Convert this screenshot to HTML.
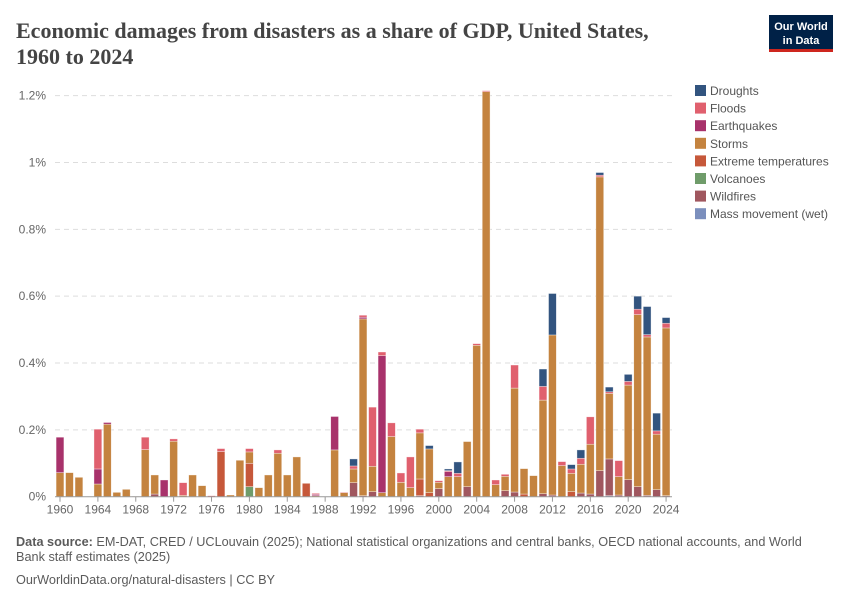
<!DOCTYPE html>
<html><head><meta charset="utf-8"><style>
body{margin:0;background:#fff;width:850px;height:600px;overflow:hidden;font-family:"Liberation Sans",sans-serif}
</style></head><body>
<svg id="chart" width="850" height="600" xmlns="http://www.w3.org/2000/svg">
<text x="16" y="38" font-family="Liberation Serif,serif" font-size="22" font-weight="bold" fill="#444">Economic damages from disasters as a share of GDP, United States,</text>
<text x="16" y="64" font-family="Liberation Serif,serif" font-size="22" font-weight="bold" fill="#444">1960 to 2024</text>
<g>
<rect x="769" y="15" width="64" height="35" fill="#002147"/>
<rect x="769" y="49" width="64" height="3" fill="#ce261e"/>
<text x="801" y="30" text-anchor="middle" font-size="11" font-weight="bold" fill="#fff">Our World</text>
<text x="801" y="44" text-anchor="middle" font-size="11" font-weight="bold" fill="#fff">in Data</text>
</g>
<g id="grid"></g>
<g id="bars"></g>
<g id="xaxis"></g>
<g id="legend"></g>
<text x="16" y="546" font-size="12.7" fill="#5b5b5b"><tspan font-weight="bold">Data source:</tspan> EM-DAT, CRED / UCLouvain (2025); National statistical organizations and central banks, OECD national accounts, and World</text>
<text x="16" y="561" font-size="12.7" fill="#5b5b5b">Bank staff estimates (2025)</text>
<text x="16" y="584" font-size="12.7" fill="#5b5b5b">OurWorldinData.org/natural-disasters | CC BY</text>
</svg>
<script>
const startYear = 1960;
const massMovement = [0,0,0,0,0,0,0,0,0,0, 0,0,0,0,0,0,0,0,0,0, 0,0,0,0,0,0,0,0,0,0, 0,0,0,0,0,0,0,0,0,0, 0,0,0,0,0,0,0,0,0,0, 0,0,0,0,0,0,0,0,.003,0, 0,0,0,0,0];
const wildfires = [0,0,0,0,0,0,0,0,0,0, .008,0,0,0,0,0,0,0,0,0, 0,0,0,0,0,0,0,0,0,0, 0,.042,.003,.015,0,0,0,0,.003,0, .024,0,0,.03,0,0,0,.018,.014,0, 0,.009,.005,0,0,.011,.008,.078,.11,.005, .051,.03,.004,.021,.003];
const volcanoes = [0,0,0,0,0,0,0,0,0,0, 0,0,0,0,0,0,0,0,0,0, .03,0,0,0,0,0,0,0,0,0, 0,0,0,0,0,0,0,0,0,0, 0,0,0,0,0,0,0,0,0,0, 0,0,0,0,0,0,0,0,0,0, 0,0,0,0,0];
const extremeTemps = [0,0,0,0,0,0,0,0,0,0, 0,0,0,0,0,0,0,.135,0,0, .07,0,0,0,0,0,.04,0,0,0, 0,0,0,0,0,0,0,0,.05,.012, 0,0,0,0,0,0,0,0,0,.008, 0,0,0,0,.015,0,0,0,0,0, 0,0,0,0,0];
const storms = [.072,.072,.058,0,.038,.217,.013,.022,.001,.141, .057,0,.166,.004,.065,.033,0,0,.005,.109, .034,.027,.065,.13,.065,.119,0,.003,0,.14, .012,.041,.529,.076,.012,.18,.043,.027,.138,.131, .019,.06,.06,.135,.453,1.212,.036,.043,.311,.076, .063,.28,.479,.093,.055,.086,.149,.879,.196,.055, .283,.515,.474,.166,.502];
const earthquakes = [.106,0,0,0,.045,.005,0,0,0,0, 0,.05,0,0,0,0,0,0,0,0, 0,0,0,0,0,0,0,.004,0,.1, 0,0,.005,0,.41,0,0,0,0,0, 0,.015,0,0,0,0,0,0,0,0, 0,0,0,0,0,0,0,0,0,0, 0,0,0,0,0];
const floods = [0,0,0,0,.119,0,0,0,0,.037, 0,0,.007,.038,0,0,.003,.009,0,0, .01,0,0,.01,0,0,0,.003,0,0, .002,.009,.006,.177,.011,.041,.028,.092,.011,0, .005,.003,.01,0,.005,.003,.014,.006,.069,0, 0,.041,0,.012,.013,.018,.082,.005,.005,.048, .011,.016,.007,.01,.014];
const droughts = [0,0,0,0,0,0,0,0,0,0, 0,0,0,0,0,0,0,0,0,0, 0,0,0,0,0,0,0,0,0,0, 0,.021,0,0,0,0,0,0,0,.01, 0,.005,.034,0,0,0,0,0,0,0, 0,.052,.124,0,.013,.025,0,.008,.014,0, .021,.039,.084,.053,.017];
const yTicks = [0,0.2,0.4,0.6,0.8,1,1.2];
const yTickLabels = ["0%","0.2%","0.4%","0.6%","0.8%","1%","1.2%"];
const xTickYears = [1960,1964,1968,1972,1976,1980,1984,1988,1992,1996,2000,2004,2008,2012,2016,2020,2024];
const legendLabels = ["Droughts","Floods","Earthquakes","Storms","Extreme temperatures","Volcanoes","Wildfires","Mass movement (wet)"];

const NS="http://www.w3.org/2000/svg";
const x0=60, step=9.47, base=496.7, pxPer=334.2, bw=7.8;
const xs=i=>x0+i*step;
const ys=v=>base-v*pxPer;
function mk(tag,attrs,parent){const e=document.createElementNS(NS,tag);for(const k in attrs)e.setAttribute(k,attrs[k]);parent.appendChild(e);return e;}
const grid=document.getElementById('grid');
yTicks.forEach((t,i)=>{
  if(t>0){const l=mk('line',{x1:55,x2:672,y1:ys(t),y2:ys(t),stroke:'#ddd','stroke-dasharray':'5,4'},grid);
  
  }
  const tx=mk('text',{x:46,y:ys(t)+4,'text-anchor':'end','font-size':12,fill:'#666'},grid);
  tx.textContent=yTickLabels[i];
  
  
});
const series=[
 {name:'mass-movement',vals:massMovement,color:'#7b8fbd'},
 {name:'wildfires',vals:wildfires,color:'#a0575f'},
 {name:'volcanoes',vals:volcanoes,color:'#6f9c6a'},
 {name:'extreme-temperatures',vals:extremeTemps,color:'#c6583a'},
 {name:'storms',vals:storms,color:'#c4833f'},
 {name:'earthquakes',vals:earthquakes,color:'#a8326b'},
 {name:'floods',vals:floods,color:'#e0606e'},
 {name:'droughts',vals:droughts,color:'#32547f'}];
const bars=document.getElementById('bars');
for(let i=0;i<storms.length;i++){
  let cum=0;
  series.forEach(s=>{
    const v=s.vals[i]; if(!v) return;
    const r=mk('rect',{x:xs(i)-bw/2,y:ys(cum+v),width:bw,height:v*pxPer,fill:s.color,stroke:'#fff','stroke-opacity':0.6,'stroke-width':0.6},bars);
    
    
    cum+=v;
  });
}
const xa=document.getElementById('xaxis');
mk('line',{x1:55,x2:672,y1:base,y2:base,stroke:'#999'},xa);
xTickYears.forEach(yr=>{
  const xx=xs(yr-startYear);
  mk('line',{x1:xx,x2:xx,y1:base,y2:base+5,stroke:'#999'},xa);
  const t=mk('text',{x:xx,y:base+17,'text-anchor':'middle','font-size':12,fill:'#666'},xa);
  t.textContent=yr;
  
  
});
const lg=document.getElementById('legend');
const legendColors=['#32547f','#e0606e','#a8326b','#c4833f','#c6583a','#6f9c6a','#a0575f','#7b8fbd'];
legendLabels.forEach((lab,i)=>{
  const g=mk('g',{},lg);
  
  
  const yy=85+i*17.6;
  mk('rect',{x:695,y:yy,width:11,height:11,fill:legendColors[i]},g);
  const t=mk('text',{x:710,y:yy+10,'font-size':12,fill:'#555'},g);
  t.textContent=lab;
});
</script>
</body></html>
